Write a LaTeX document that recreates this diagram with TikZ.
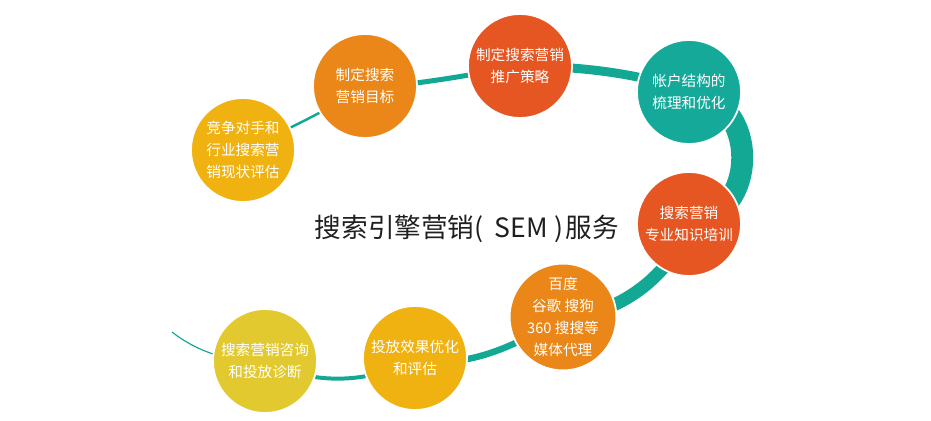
\documentclass[tikz,border=0pt]{standalone}
\usepackage{fontspec}
\setmainfont{Noto Sans CJK SC}
\usetikzlibrary{backgrounds}
\definecolor{gold}{HTML}{F0B211}
\definecolor{orng}{HTML}{EA8718}
\definecolor{redo}{HTML}{E55622}
\definecolor{tealc}{HTML}{14A999}
\definecolor{yel}{HTML}{E2C92F}
\definecolor{band}{HTML}{13A894}
\begin{document}
\begin{tikzpicture}[x=0.03cm,y=-0.03cm,
  bub/.style={circle, minimum size=3.12cm, inner sep=0pt, draw=white, line width=1.5pt,
    text=white, align=center, font=\fontsize{12.5}{18.8}\selectfont},
  link/.style={draw=band, line cap=butt},
  titlefont/.style={font=\fontsize{22.7}{27}\selectfont, text=black!88}]
\useasboundingbox (0,0) rectangle (931,420);
\node[bub, fill=gold] (c1) at (243,150) {竞争对手和\\行业搜索营\\销现状评估};
\node[bub, fill=orng] (c2) at (365,86) {制定搜索\\营销目标};
\node[bub, fill=redo] (c3) at (520,66) {制定搜索营销\\推广策略};
\node[bub, fill=tealc] (c4) at (689,92) {帐户结构的\\梳理和优化};
\node[bub, fill=redo] (c5) at (689,224) {搜索营销\\专业知识培训};
\node[bub, fill=orng] (c6) at (563,317) {百度\\谷歌 搜狗\\360 搜搜等\\媒体代理};
\node[bub, fill=gold] (c7) at (415,358) {投放效果优化\\和评估};
\node[bub, fill=yel] (c8) at (265,361) {搜索营销咨询\\和投放诊断};
\coordinate (tail) at (172,332);
\node[titlefont] (title) at (467,229) {搜索引擎营销(\hspace{0.42em}SEM\hspace{0.25em})\hspace{0.1em}服务};
\begin{scope}[on background layer]
  \draw[link, line width=2.1pt] (c1.center) .. controls (285,130) and (320,115) .. (c2.center);
  \draw[link, line width=4.3pt] (c2.center) .. controls (400,88) and (470,75) .. (c3.center);
  \draw[link, line width=7.7pt] (c3.center) .. controls (570,66) and (640,72) .. (c4.center);
  \draw[link, line width=18.7pt] (c4.center) .. controls (760,100) and (760,215) .. (c5.center);
  \draw[link, line width=11pt] (c5.center) .. controls (665,290) and (600,318) .. (c6.center);
  \draw[link, line width=5.5pt] (c6.center) .. controls (510,350) and (460,370) .. (c7.center);
  \draw[link, line width=3.4pt] (c7.center) .. controls (370,385) and (310,385) .. (c8.center);
  \draw[link, line width=1pt] (c8.center) .. controls (225,362) and (195,350) .. (tail);
\end{scope}
\end{tikzpicture}
\end{document}
